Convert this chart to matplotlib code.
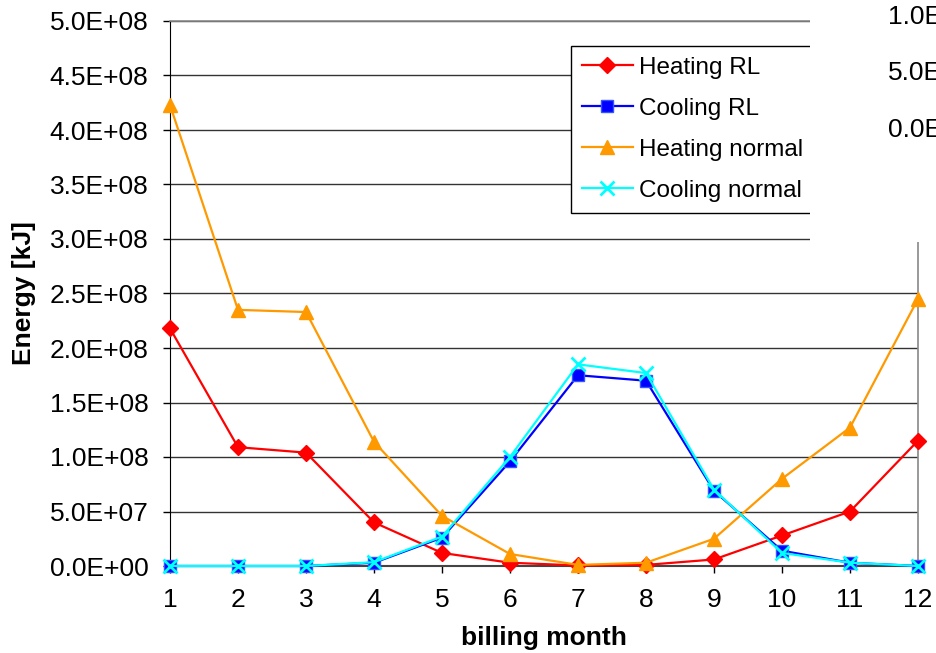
import matplotlib
matplotlib.use("Agg")
import matplotlib.pyplot as plt
from matplotlib.patches import Rectangle

months = [1, 2, 3, 4, 5, 6, 7, 8, 9, 10, 11, 12]
heating_rl = [2.18e8, 1.09e8, 1.04e8, 4.0e7, 1.2e7, 3.0e6, 5.0e5, 1.0e6, 6.0e6, 2.8e7, 5.0e7, 1.15e8]
cooling_rl = [0, 0, 0, 3.0e6, 2.6e7, 9.6e7, 1.75e8, 1.70e8, 6.9e7, 1.4e7, 3.0e6, 0]
heating_normal = [4.23e8, 2.35e8, 2.33e8, 1.14e8, 4.6e7, 1.1e7, 1.0e6, 3.0e6, 2.5e7, 8.0e7, 1.27e8, 2.45e8]
cooling_normal = [0, 0, 0, 3.5e6, 2.7e7, 1.0e8, 1.85e8, 1.77e8, 7.0e7, 1.2e7, 3.0e6, 0]
y_ticks = [i * 5.0e7 for i in range(11)]
y_tick_labels = ["0.0E+00", "5.0E+07", "1.0E+08", "1.5E+08", "2.0E+08", "2.5E+08",
                 "3.0E+08", "3.5E+08", "4.0E+08", "4.5E+08", "5.0E+08"]
ghost_labels = ["1.0E", "5.0E", "0.0E"]

plt.rcParams['font.family'] = ['Liberation Sans', 'DejaVu Sans']
fs = 19
leg_fs = 17.5

fig = plt.figure(figsize=(9.36, 6.53), dpi=100)
ax = fig.add_axes([170 / 936, 87 / 653, 748 / 936, 545 / 653])

ax.plot(months, heating_rl, color='#FF0000', lw=1.6, marker='D', ms=8.5,
        mec='#FF0000', mfc='#FF0000', label='Heating RL', clip_on=False, zorder=3)
ax.plot(months, cooling_rl, color='#0000FF', lw=1.6, marker='s', ms=9,
        mec='#3355FF', mfc='#0000FF', label='Cooling RL', clip_on=False, zorder=3)
ax.plot(months, heating_normal, color='#FF9900', lw=1.6, marker='^', ms=10.5,
        mec='#FF9900', mfc='#FF9900', label='Heating normal', clip_on=False, zorder=3)
ax.plot(months, cooling_normal, color='#00FFFF', lw=1.6, marker='x', ms=10,
        mew=2, mec='#00FFFF', label='Cooling normal', clip_on=False, zorder=4)

ax.set_xlim(1, 12)
ax.set_ylim(0, 5.0e8)
ax.set_xticks(months)
ax.set_yticks(y_ticks)
ax.set_yticklabels(y_tick_labels)
ax.tick_params(axis='both', labelsize=fs, direction='out', length=5, width=1, colors='black')
ax.tick_params(axis='y', pad=10.5)
ax.tick_params(axis='x', pad=11)
ax.yaxis.grid(True, color='#333333', lw=1)
ax.set_axisbelow(True)

for side in ['top', 'right']:
    ax.spines[side].set_color('#888888')
    ax.spines[side].set_linewidth(1.2)
ax.spines['left'].set_color('black')
ax.spines['bottom'].set_color('#444444')
ax.spines['bottom'].set_linewidth(1.5)

ax.set_xlabel('billing month', fontsize=fs, fontweight='bold', labelpad=10)
ax.set_ylabel('Energy [kJ]', fontsize=fs, fontweight='bold', labelpad=10)

leg = ax.legend(loc='upper left', bbox_to_anchor=((571 - 170) / 748, (566 - 46) / 545),
                fontsize=leg_fs, frameon=True, fancybox=False, borderpad=0.45,
                handlelength=2.1, handletextpad=0.25, labelspacing=0.78,
                borderaxespad=0)
leg.get_frame().set_edgecolor('black')
leg.get_frame().set_linewidth(1)
leg.get_frame().set_facecolor('white')
leg.get_frame().set_alpha(1)

# white patch from an overlapping chart in the top right corner
fig.patches.append(Rectangle((810 / 936, 1 - 242 / 653), 126 / 936, 242 / 653,
                             transform=fig.transFigure, facecolor='white',
                             edgecolor='none', zorder=10))
for lbl, ypx in zip(ghost_labels, [17, 73, 130]):
    fig.text(888 / 936, 1 - ypx / 653, lbl, fontsize=fs, ha='left', va='center', zorder=11)

fig.savefig('out.png', dpi=100)
